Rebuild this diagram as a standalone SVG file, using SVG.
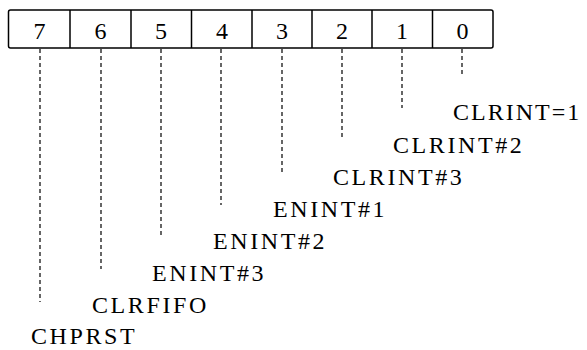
<svg xmlns="http://www.w3.org/2000/svg" width="587" height="350" viewBox="0 0 587 350">
<style>
  .cell { fill: #fff; stroke: #000; stroke-width: 1.5; }
  .bit { font-family: "Liberation Serif", "DejaVu Serif", serif; font-size: 24px; fill: #000; text-anchor: middle; }
  .lbl { font-family: "Liberation Serif", "DejaVu Serif", serif; font-size: 24px; fill: #000; letter-spacing: 2.6px; }
  .lead { stroke: #000; stroke-width: 1.2; stroke-dasharray: 4 3; fill: none; }
</style>
<rect width="587" height="350" fill="#fff"/>
<g id="register">
  <rect class="cell" x="8.5" y="10" width="484.5" height="38" rx="2"/>
  <line class="cell" x1="70" y1="10" x2="70" y2="48"/>
  <line class="cell" x1="131" y1="10" x2="131" y2="48"/>
  <line class="cell" x1="191.5" y1="10" x2="191.5" y2="48"/>
  <line class="cell" x1="252" y1="10" x2="252" y2="48"/>
  <line class="cell" x1="312" y1="10" x2="312" y2="48"/>
  <line class="cell" x1="372" y1="10" x2="372" y2="48"/>
  <line class="cell" x1="432.5" y1="10" x2="432.5" y2="48"/>
  <text class="bit" x="39.5" y="39">7</text>
  <text class="bit" x="100.5" y="39">6</text>
  <text class="bit" x="161" y="39">5</text>
  <text class="bit" x="222" y="39">4</text>
  <text class="bit" x="282" y="39">3</text>
  <text class="bit" x="342" y="39">2</text>
  <text class="bit" x="402" y="39">1</text>
  <text class="bit" x="462.5" y="39">0</text>
</g>
<g id="connectors">
  <line class="lead" x1="462" y1="49" x2="462" y2="75"/>
  <line class="lead" x1="402" y1="49" x2="402" y2="108"/>
  <line class="lead" x1="342" y1="49" x2="342" y2="140"/>
  <line class="lead" x1="282" y1="49" x2="282" y2="173"/>
  <line class="lead" x1="221" y1="49" x2="221" y2="205"/>
  <line class="lead" x1="161" y1="49" x2="161" y2="237"/>
  <line class="lead" x1="101" y1="49" x2="101" y2="269"/>
  <line class="lead" x1="40" y1="49" x2="40" y2="302"/>
</g>
<g id="bit0"><text class="lbl" x="453" y="120" style="letter-spacing:2px">CLRINT=1</text></g>
<g id="bit1"><text class="lbl" x="393" y="152.5">CLRINT#2</text></g>
<g id="bit2"><text class="lbl" x="333" y="184.5">CLRINT#3</text></g>
<g id="bit3"><text class="lbl" x="273" y="216.5">ENINT#1</text></g>
<g id="bit4"><text class="lbl" x="213" y="248.5">ENINT#2</text></g>
<g id="bit5"><text class="lbl" x="152" y="280.5">ENINT#3</text></g>
<g id="bit6"><text class="lbl" x="92" y="312.5">CLRFIFO</text></g>
<g id="bit7"><text class="lbl" x="31" y="344">CHPRST</text></g>
</svg>
